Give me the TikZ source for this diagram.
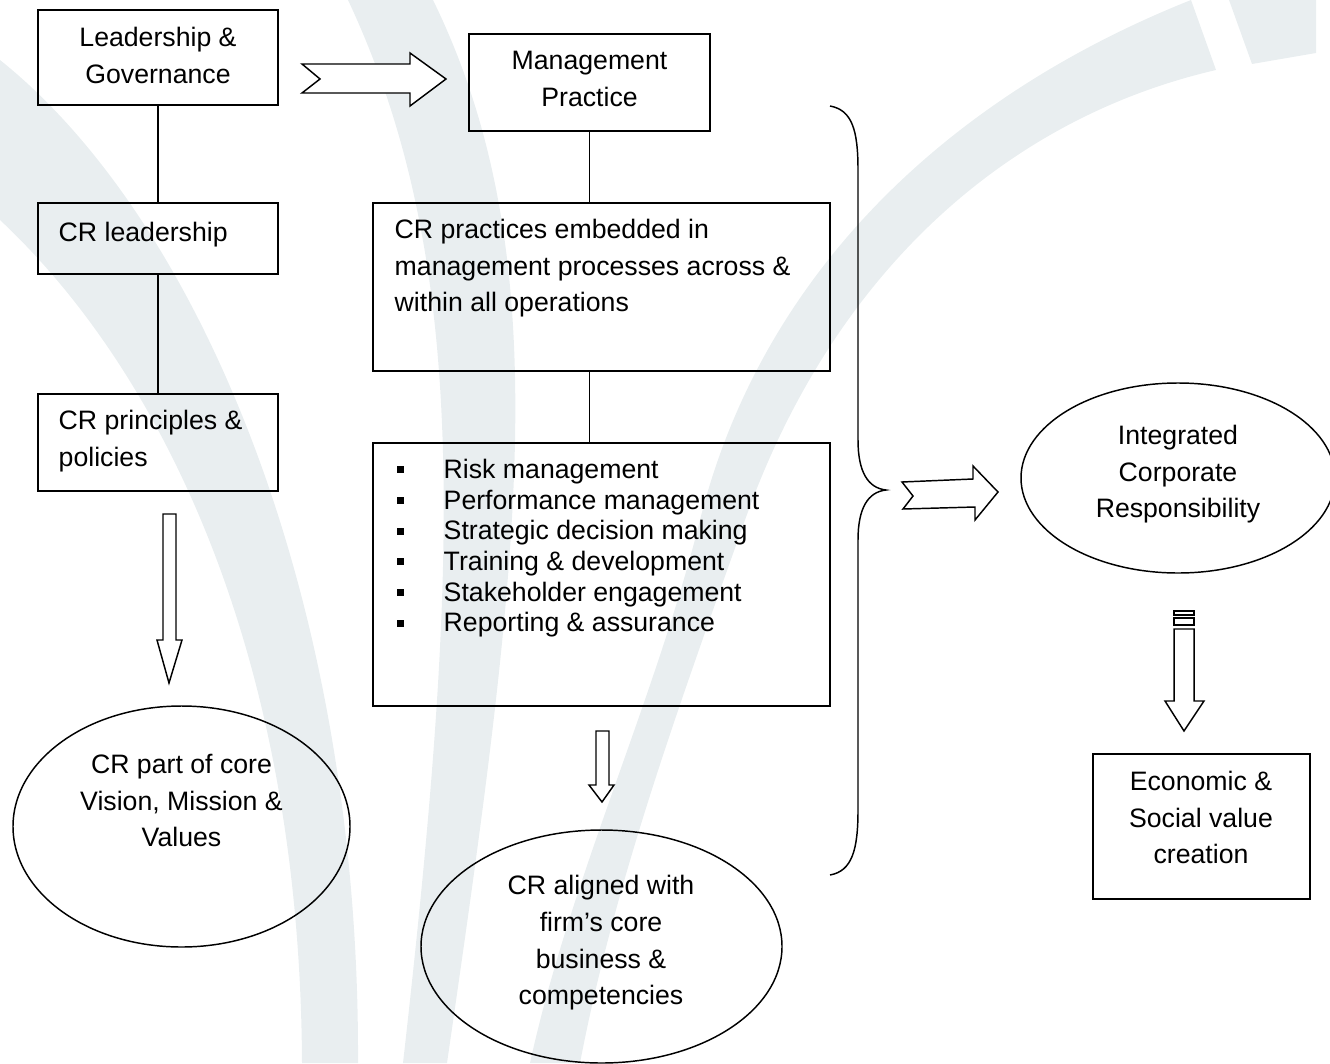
\documentclass[tikz,border=0pt]{standalone}
\usepackage{fontspec}
\setmainfont{Liberation Sans}
\usetikzlibrary{shapes.geometric}
\definecolor{wmark}{RGB}{233,238,240}
\newcommand\pxu{0.75pt}
\newcommand\sqbul{\rule[3.75pt]{5.25pt}{5.25pt}}

\begin{document}
\begin{tikzpicture}[x=\pxu,y=-\pxu,line width=1.1pt,line join=miter,
  box/.style args={#1x#2}{draw,rectangle,minimum width=#1*\pxu,minimum height=#2*\pxu,inner sep=0pt},
  oval/.style args={#1x#2}{draw,ellipse,minimum width=#1*\pxu,minimum height=#2*\pxu,inner sep=0pt},
  txt/.style={inner sep=0pt,font=\fontsize{20}{27.5}\selectfont,execute at begin node=\strut,execute at end node=\strut},
  blk/.style={draw,fill=white}]
\useasboundingbox (0,0) rectangle (1330,1063);
% watermark
\fill[wmark](0,60)..controls(200,220)and(360,600)..(358,1063)--(302,1063)..controls(300,650)and(160,370)..(0,220)--cycle;
\fill[wmark](348,0)..controls(470,260)and(460,560)..(403,1063)--(447,1063)..controls(520,560)and(560,260)..(433,0)--cycle;
\fill[wmark](1191,0)..controls(940,100)and(760,280)..(700,520)..controls(655,700)and(570,880)..(530,1063)
--(580,1063)..controls(615,880)and(681,700)..(745,520)..controls(830,280)and(1000,120)..(1216,70)--cycle;
\fill[wmark](1229,0)--(1252,64)--(1316,53)--(1316,0)--cycle;

% left column
\node[box=240x95] (lead) at (158,57.5) {};
\node[txt,align=center] (leadtxt) at (158,61) {Leadership \&\\Governance};
\node[box=240x71] (crlead) at (158,238.5) {};
\node[txt,anchor=west] (crleadtxt) at (58,234) {CR leadership};
\node[box=240x97] (crpol) at (158,442.5) {};
\node[txt,anchor=west,align=left] (crpoltxt) at (58,444) {CR principles \&\\policies};
\node[oval=337x241] (core) at (181.5,826.5) {};
\node[txt,align=center] (coretxt) at (181.5,806) {CR part of core\\Vision, Mission \&\\Values};

% middle column
\node[box=241x97] (mgmt) at (589.5,82.5) {};
\node[txt,align=center] (mgmttxt) at (589.5,84.5) {Management\\Practice};
\node[box=457x168] (embed) at (601.5,287) {};
\node[txt,anchor=west,align=left] (embedtxt) at (394,271) {CR practices embedded in\\management processes across \&\\within all operations};
\node[box=457x263] (tools) at (601.5,574.5) {};
\node[txt,anchor=west,align=left,font=\fontsize{20}{23}\selectfont] (toolstxt) at (396,550)
{\sqbul\hspace{30pt}Risk management\\
\sqbul\hspace{30pt}Performance management\\
\sqbul\hspace{30pt}Strategic decision making\\
\sqbul\hspace{30pt}Training \& development\\
\sqbul\hspace{30pt}Stakeholder engagement\\
\sqbul\hspace{30pt}Reporting \& assurance};
\node[oval=361x233] (aligned) at (601.5,946.5) {};
\node[txt,align=center] (alignedtxt) at (601,945.5) {CR aligned with\\firm’s core\\business \&\\competencies};

% right column
\node[oval=314x190] (icr) at (1178,478) {};
\node[txt,align=center] (icrtxt) at (1178,477) {Integrated\\Corporate\\Responsibility};
\node[box=217x145] (value) at (1201.5,826.5) {};
\node[txt,align=center] (valuetxt) at (1201,823) {Economic \&\\Social value\\creation};

% links
\draw(lead)--(crlead);
\draw(crlead)--(crpol);
\draw(mgmt)--(mgmt|-embed.north);
\draw(mgmt|-embed.south)--(mgmt|-tools.north);

% brace
\draw(830,106)..controls(852,110)and(858,130)..(858,170)--(858,440)
..controls(858,472)and(868,488)..(886,490)..controls(868,492)and(858,508)..(858,540)
--(858,810)..controls(858,850)and(852,871)..(830,875);

% block arrows
\draw[blk](302,64)--(410,64)--(410,53)--(446,79)--(410,106)--(410,93)--(302,93)--(320,79)--cycle;
\draw[blk](902,482)--(973,479)--(973,466)--(998,492)--(975,520)--(975,507)--(903,509)--(913,496)--cycle;
\draw[blk](163,514)--(176,514)--(176,640)--(182,640)--(169,683)--(157,640)--(163,640)--cycle;
\draw[blk](596,731)--(609,731)--(609,785)--(614,785)--(602,802)--(589,785)--(596,785)--cycle;
\draw[blk](1174,611)rectangle(1194,615) (1174,618)rectangle(1194,625);
\draw[blk](1174,629)--(1194,629)--(1194,701)--(1204,701)--(1184,731)--(1165,701)--(1174,701)--cycle;
\end{tikzpicture}
\end{document}
